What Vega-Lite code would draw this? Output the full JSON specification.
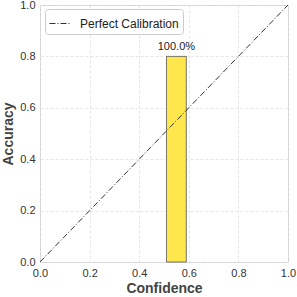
{
  "$schema": "https://vega.github.io/schema/vega-lite/v6.json",
  "width": 248,
  "height": 257,
  "autosize": {"type": "none"},
  "padding": {"left": 40, "top": 5, "right": 9, "bottom": 35},
  "config": {
    "font": "Liberation Sans",
    "view": {"stroke": "#d0d0d0", "strokeWidth": 1},
    "axis": {
      "domain": false,
      "ticks": false,
      "grid": true,
      "labelFlush": false,
      "gridColor": "#e0e0e0",
      "gridDash": [3, 2],
      "gridWidth": 0.8,
      "labelFont": "Liberation Sans",
      "labelFontSize": 11,
      "labelColor": "#333333",
      "titleFont": "Liberation Sans",
      "titleFontSize": 14,
      "titleFontWeight": "bold",
      "titleColor": "#444444"
    }
  },
  "datasets": {
    "bars": [{"lo": 0.51, "hi": 0.59, "acc": 0.8, "label": "100.0%"}],
    "diag": [
      {"x": 0, "y": 0, "series": "Perfect Calibration"},
      {"x": 1, "y": 1, "series": "Perfect Calibration"}
    ]
  },
  "layer": [
    {
      "data": {"name": "bars"},
      "mark": {"type": "rect", "fill": "#FDE74C", "stroke": "#555555", "strokeWidth": 0.8},
      "encoding": {
        "x": {"field": "lo", "type": "quantitative", "scale": {"domain": [0, 1], "nice": false}, "axis": {"title": "Confidence", "format": ".1f", "values": [0, 0.2, 0.4, 0.6, 0.8, 1.0], "labelPadding": 5, "titlePadding": 3}},
        "x2": {"field": "hi"},
        "y": {"field": "acc", "type": "quantitative", "scale": {"domain": [0, 1], "nice": false}, "axis": {"title": "Accuracy", "format": ".1f", "values": [0, 0.2, 0.4, 0.6, 0.8, 1.0], "labelPadding": 5, "titlePadding": 4}},
        "y2": {"datum": 0}
      }
    },
    {
      "data": {"name": "bars"},
      "mark": {"type": "text", "dy": -9, "fontSize": 11, "color": "#222222", "font": "Liberation Sans"},
      "encoding": {
        "x": {"datum": 0.55, "type": "quantitative"},
        "y": {"field": "acc", "type": "quantitative"},
        "text": {"field": "label"}
      }
    },
    {
      "data": {"name": "diag"},
      "mark": {"type": "line", "strokeDash": [6, 2, 1, 2], "strokeWidth": 1},
      "encoding": {
        "x": {"field": "x", "type": "quantitative"},
        "y": {"field": "y", "type": "quantitative"},
        "color": {
          "field": "series",
          "type": "nominal",
          "scale": {"range": ["#333333"]},
          "legend": {
            "title": null,
            "orient": "none",
            "legendX": 5,
            "legendY": 4,
            "symbolType": "stroke",
            "symbolDash": [6, 2, 1, 2],
            "symbolSize": 400,
            "symbolStrokeWidth": 1,
            "labelFontSize": 12,
            "labelFont": "Liberation Sans",
            "labelColor": "#222222",
            "labelOffset": 10,
            "padding": 4,
            "fillColor": "white",
            "strokeColor": "#cccccc",
            "cornerRadius": 3
          }
        }
      }
    }
  ]
}
